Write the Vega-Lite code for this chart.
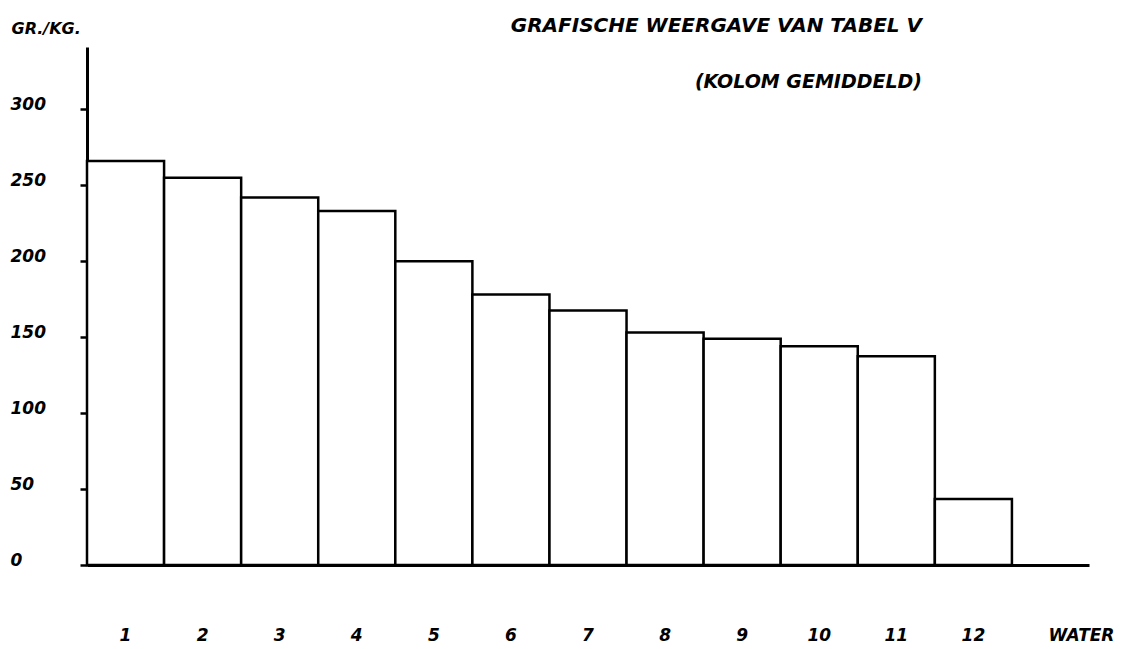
{
  "$schema": "https://vega.github.io/schema/vega-lite/v6.json",
  "width": 1002,
  "height": 518,
  "autosize": {"type": "none"},
  "padding": {"left": 87, "top": 47, "right": 33, "bottom": 84},
  "background": "white",
  "config": {"view": {"stroke": null}, "font": "DejaVu Sans"},
  "title": {
    "text": "GRAFISCHE WEERGAVE VAN TABEL V",
    "subtitle": "(KOLOM GEMIDDELD)",
    "anchor": "end",
    "frame": "group",
    "dx": -167,
    "offset": -72,
    "font": "DejaVu Sans",
    "fontSize": 20,
    "fontStyle": "italic",
    "fontWeight": "bold",
    "color": "black",
    "subtitleFont": "DejaVu Sans",
    "subtitleFontSize": 19,
    "subtitleFontStyle": "italic",
    "subtitleFontWeight": "bold",
    "subtitleColor": "black",
    "subtitlePadding": 37
  },
  "data": {
    "values": [
      {"kolom": "1", "waarde": 266},
      {"kolom": "2", "waarde": 255},
      {"kolom": "3", "waarde": 242},
      {"kolom": "4", "waarde": 233},
      {"kolom": "5", "waarde": 200},
      {"kolom": "6", "waarde": 178},
      {"kolom": "7", "waarde": 167.5},
      {"kolom": "8", "waarde": 153},
      {"kolom": "9", "waarde": 149},
      {"kolom": "10", "waarde": 144},
      {"kolom": "11", "waarde": 137.5},
      {"kolom": "12", "waarde": 43.5}
    ]
  },
  "mark": {"type": "bar", "fill": "white", "stroke": "black", "strokeWidth": 2.5},
  "encoding": {
    "x": {
      "field": "kolom",
      "type": "ordinal",
      "sort": null,
      "scale": {
        "domain": ["1", "2", "3", "4", "5", "6", "7", "8", "9", "10", "11", "12", "WATER"],
        "paddingInner": 0,
        "paddingOuter": 0
      },
      "axis": {
        "title": null,
        "domain": true,
        "domainColor": "black",
        "domainWidth": 3,
        "ticks": false,
        "tickSize": 0,
        "labelAngle": 0,
        "labelPadding": 62,
        "labelBaseline": "top",
        "labelFont": "DejaVu Sans",
        "labelFontSize": 17,
        "labelFontStyle": "italic",
        "labelFontWeight": "bold",
        "labelColor": "black",
        "labelOffset": {"condition": {"test": "datum.value === 'WATER'", "value": 31}, "value": 0}
      }
    },
    "y": {
      "field": "waarde",
      "type": "quantitative",
      "scale": {"domain": [0, 341], "nice": false, "zero": true},
      "axis": {
        "values": [0, 50, 100, 150, 200, 250, 300],
        "grid": false,
        "domainColor": "black",
        "domainWidth": 3,
        "tickColor": "black",
        "tickSize": 7,
        "tickWidth": 2.5,
        "labelAlign": "left",
        "labelPadding": 70,
        "labelBaseline": "alphabetic",
        "labelFont": "DejaVu Sans",
        "labelFontSize": 17,
        "labelFontStyle": "italic",
        "labelFontWeight": "bold",
        "labelColor": "black",
        "title": "GR./KG.",
        "titleAngle": 0,
        "titleAlign": "left",
        "titleBaseline": "alphabetic",
        "titleX": -76,
        "titleY": -14,
        "titleFont": "DejaVu Sans",
        "titleFontSize": 16,
        "titleFontStyle": "italic",
        "titleFontWeight": "bold",
        "titleColor": "black"
      }
    }
  }
}
